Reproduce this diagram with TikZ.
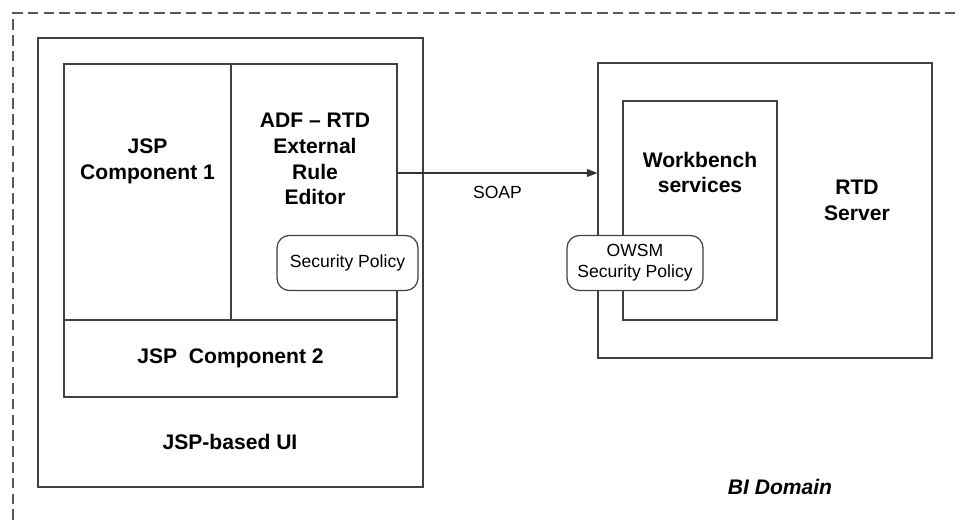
\documentclass[tikz,border=0pt]{standalone}
\usepackage{fontspec}
\setmainfont{Liberation Sans}
\usetikzlibrary{arrows.meta}
\begin{document}
\begin{tikzpicture}[
    x=0.02cm, y=-0.02cm,
    box/.style={draw=black!75, line width=0.7pt, inner sep=0pt},
    policy/.style={draw=black!75, line width=0.7pt, fill=white, rounded corners=7pt, minimum width=#1, minimum height=1.1cm, align=center, font=\fontsize{10}{12}\selectfont},
    title/.style={align=center, font=\fontsize{12}{14.7}\selectfont\bfseries},
    arrow/.style={-{Triangle[length=6pt,width=4.5pt]}, draw=black!80, line width=0.7pt}
]
    \useasboundingbox (0,0) rectangle (960,520);
    % Domain frame
    \draw[black!65, line width=0.7pt, dash pattern=on 6pt off 3pt] (13,520) -- (13,13) -- (960,13);

    % JSP side
    \node[box, minimum width=7.7cm, minimum height=8.98cm] (ui) at (230.5,262.5) {};
    \node[box, minimum width=3.34cm, minimum height=5.12cm] (comp1) at (147.5,192) {};
    \node[box, minimum width=3.32cm, minimum height=5.12cm] (editor) at (314,192) {};
    \node[box, minimum width=6.66cm, minimum height=1.54cm] (comp2) at (230.5,358.5) {};
    \node[title] (comp1text) at (147.5,161) {JSP\\Component 1};
    \node[title] (editortext) at (315,159) {ADF -- RTD\\External\\Rule\\Editor};
    \node[title] at (comp2) {JSP\ \ Component 2};
    \node[title] (uitext) at (230,442) {JSP-based UI};
    \node[policy=2.82cm] (policy) at (347.5,263) {Security Policy};

    % RTD side
    \node[box, minimum width=6.68cm, minimum height=5.9cm] (server) at (765,210.5) {};
    \node[box, minimum width=3.08cm, minimum height=4.38cm] (workbench) at (700,210.5) {};
    \node[title] (workbenchtext) at (700,172.5) {Workbench\\services};
    \node[title] (servertext) at (857,200) {RTD\\Server};
    \node[policy=2.72cm] (owsm) at (635,263) {OWSM\\Security Policy};

    % Call
    \draw[arrow] ([yshift=0.38cm]editor.east) -- ([yshift=0.38cm]editor.east -| server.west)
        node[pos=0.5, below=4pt, font=\fontsize{10}{12}\selectfont] {SOAP};

    \node[font=\fontsize{12}{14}\selectfont\bfseries\itshape] (domain) at (780,487) {BI Domain};
\end{tikzpicture}
\end{document}
